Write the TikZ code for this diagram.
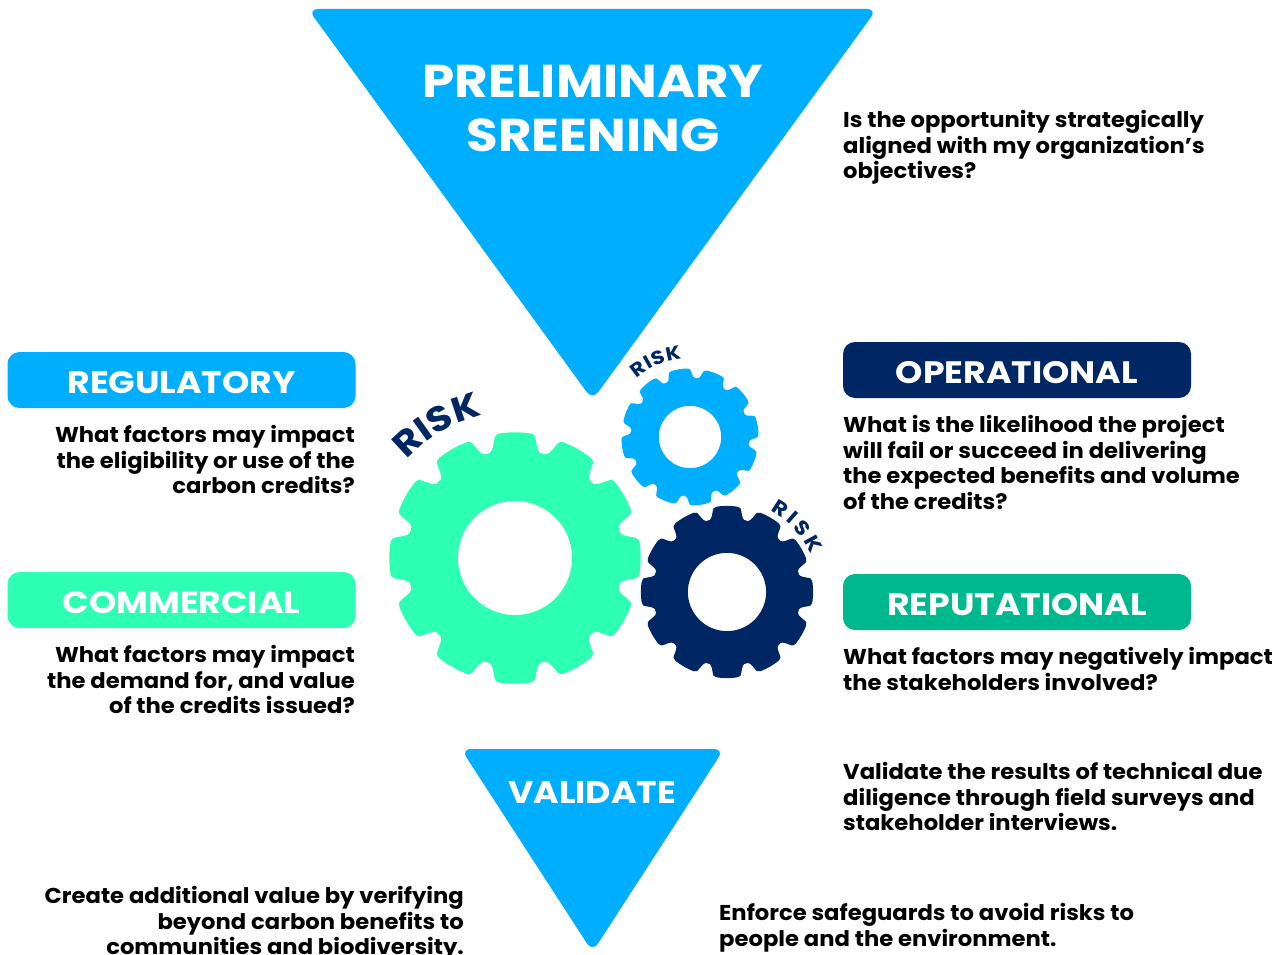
\documentclass[tikz,border=0pt]{standalone}
\usepackage{fontspec}
\setmainfont{Poppins}[FakeStretch=1.055]
\newfontfamily\headf{Poppins}[FakeStretch=1.12]
\usetikzlibrary{decorations.text}
\definecolor{skyb}{HTML}{00AEFF}
\definecolor{mint}{HTML}{2DFFB3}
\definecolor{navy}{HTML}{002664}
\definecolor{teal2}{HTML}{00B88D}
\newcommand{\gearshape}[5]{% cx cy R offset colour
  \begin{scope}[shift={(#1,#2)},scale=#3]
  \fill[#5,even odd rule] ({#4-15}:.86)
  \foreach \a in {0,30,...,330}{
    .. controls ({#4+\a-12.5}:.85) and ({#4+\a-11.5}:.89) .. ({#4+\a-10.2}:.945)
    .. controls ({#4+\a-9.5}:.985) and ({#4+\a-8.8}:1) .. ({#4+\a-6.8}:1)
    .. controls ({#4+\a-2}:1.005) and ({#4+\a+2}:1.005) .. ({#4+\a+6.8}:1)
    .. controls ({#4+\a+8.8}:1) and ({#4+\a+9.5}:.985) .. ({#4+\a+10.2}:.945)
    .. controls ({#4+\a+11.5}:.89) and ({#4+\a+12.5}:.85) .. ({#4+\a+15}:.86)
  } -- cycle (0,0) circle[radius=.455];
  \end{scope}}
\tikzset{
  tab/.style={rounded corners=12pt,minimum width=348pt,minimum height=56pt,inner sep=0pt,text=white,font=\headf\fontsize{31}{36}\selectfont\bfseries},
  qleft/.style={anchor=north east,align=right,inner sep=0pt,font=\fontsize{21.5}{25.7}\selectfont\bfseries},
  qright/.style={anchor=north west,align=left,inner sep=0pt,font=\fontsize{21.5}{25.7}\selectfont\bfseries},
  tri/.style={fill=skyb,rounded corners=10pt},
  risk/.style={decorate,decoration={text along path,text color=navy,text align=fit to path,text={|\headf\fontsize{#1}{#1}\selectfont\bfseries|RISK}}}
}
\begin{document}
\begin{tikzpicture}[x=1pt,y=-1pt]
\useasboundingbox (0,0) rectangle (1283,955);
\fill[white] (0,0) rectangle (1283,955);
\path[tri] (308,9) -- (877,9) -- (592.5,400) -- cycle;
\path[tri] (461,749) -- (724,749) -- (592.5,952) -- cycle;
\node[text=white,align=center,inner sep=0pt,font=\headf\fontsize{46}{54}\selectfont\bfseries] (prelim) at (593,108.5) {PRELIMINARY\\SREENING};
\node[text=white,inner sep=0pt,font=\headf\fontsize{31}{36}\selectfont\bfseries] (validate) at (592,792.5) {VALIDATE};
\node[tab,fill=skyb,text depth=0pt] (reg) at (181.5,380) {\raisebox{-4pt}{REGULATORY}};
\node[tab,fill=mint,text depth=0pt] (com) at (181.5,600) {\raisebox{-4pt}{COMMERCIAL}};
\node[tab,fill=navy,text depth=0pt] (ope) at (1017,370) {\raisebox{-4pt}{OPERATIONAL}};
\node[tab,fill=teal2,text depth=0pt] (rep) at (1017,602) {\raisebox{-4pt}{REPUTATIONAL}};
\node[qright] (q1) at (843,110) {Is the opportunity strategically\\aligned with my organization’s\\objectives?};
\node[qleft] (q2) at (355,425) {What factors may impact\\the eligibility or use of the\\carbon credits?};
\node[qleft] (q3) at (355,645) {What factors may impact\\the demand for, and value\\of the credits issued?};
\node[qright] (q4) at (843,415) {What is the likelihood the project\\will fail or succeed in delivering\\the expected benefits and volume\\of the credits?};
\node[qright] (q5) at (843,647) {What factors may negatively impact\\the stakeholders involved?};
\node[qright] (q6) at (843,762) {Validate the results of technical due\\diligence through field surveys and\\stakeholder interviews.};
\node[qleft] (q7) at (464,886) {Create additional value by verifying\\beyond carbon benefits to\\communities and biodiversity.};
\node[qright] (q8) at (719,903) {Enforce safeguards to avoid risks to\\people and the environment.};
\gearshape{515}{558}{125.5}{0}{mint}
\gearshape{690}{437}{68.5}{-9}{skyb}
\gearshape{727}{592}{86}{0}{navy}
\path[risk=35] (515,558) ++(-138:146) arc[start angle=-138,end angle=-103,radius=146];
\path[risk=19] (690,437) ++(-132:79) arc[start angle=-132,end angle=-96,radius=79];
\path[risk=20] (727,592) ++(-62:92) arc[start angle=-62,end angle=-24,radius=92];
\end{tikzpicture}
\end{document}
